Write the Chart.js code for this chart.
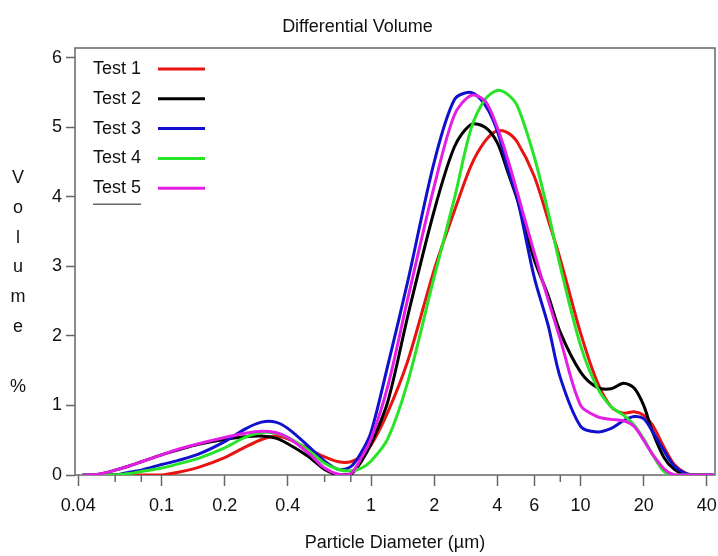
<!DOCTYPE html>
<html>
<head>
<meta charset="utf-8">
<title>Differential Volume</title>
<script src="https://cdn.jsdelivr.net/npm/chart.js@4.4.1/dist/chart.umd.min.js"></script>
<style>
  html, body { margin: 0; padding: 0; background: #fff; }
  #chartContainer { width: 718px; height: 556px; }
</style>
</head>
<body>
<div id="chartContainer"><canvas id="myChart" width="718" height="556"></canvas></div>
<script>
const FONT = "'Liberation Sans', Arial, sans-serif";
const INK = "#111";
const AXIS = "#666";

// particle diameter (µm) shared by all runs
const diameters = [0.042, 0.05, 0.06, 0.07, 0.08, 0.1, 0.12, 0.15, 0.2, 0.25, 0.3, 0.35, 0.4, 0.5, 0.6, 0.7, 0.8, 0.9,
  1, 1.2, 1.5, 2, 2.5, 3, 3.5, 4, 4.5, 5, 6, 7, 8, 10, 12, 14, 16, 18, 20, 22, 25, 28, 32, 36, 43];

// volume % per run
const test1 = [0, 0, 0, 0, 0, 0, 0.04, 0.11, 0.25, 0.4, 0.51, 0.56, 0.52, 0.38, 0.26, 0.19, 0.19, 0.27,
  0.43, 0.9, 1.65, 2.95, 3.8, 4.45, 4.8, 4.95, 4.92, 4.78, 4.3, 3.67, 3.1, 2.04, 1.34, 0.98, 0.89, 0.91, 0.86, 0.72, 0.4, 0.15, 0.02, 0, 0];
const test2 = [0, 0.01, 0.07, 0.13, 0.19, 0.29, 0.36, 0.44, 0.51, 0.55, 0.56, 0.53, 0.45, 0.27, 0.08, 0, 0.01, 0.2,
  0.45, 1.05, 2.3, 3.8, 4.72, 5.04, 5.0, 4.78, 4.35, 3.95, 3.1, 2.58, 2.05, 1.48, 1.26, 1.24, 1.32, 1.25, 1.0, 0.63, 0.25, 0.08, 0, 0, 0];
const test3 = [0, 0, 0, 0.04, 0.07, 0.15, 0.21, 0.3, 0.48, 0.66, 0.76, 0.76, 0.67, 0.42, 0.2, 0.08, 0.12, 0.33,
  0.62, 1.57, 2.8, 4.5, 5.4, 5.5, 5.32, 4.95, 4.4, 3.96, 2.85, 2.15, 1.4, 0.7, 0.62, 0.67, 0.78, 0.84, 0.81, 0.63, 0.35, 0.13, 0.02, 0, 0];
const test4 = [0, 0, 0, 0.02, 0.05, 0.1, 0.16, 0.24, 0.39, 0.54, 0.61, 0.6, 0.54, 0.36, 0.17, 0.08, 0.06, 0.1,
  0.2, 0.52, 1.35, 2.85, 3.98, 4.98, 5.4, 5.53, 5.47, 5.3, 4.58, 3.78, 3.0, 1.86, 1.26, 0.98, 0.86, 0.72, 0.52, 0.3, 0.05, 0, 0, 0, 0];
const test5 = [0, 0.01, 0.07, 0.13, 0.19, 0.29, 0.37, 0.45, 0.54, 0.6, 0.63, 0.61, 0.54, 0.32, 0.1, 0.01, 0.02, 0.25,
  0.52, 1.27, 2.55, 4.15, 5.18, 5.46, 5.38, 5.0, 4.53, 4.05, 3.2, 2.52, 1.95, 1.0, 0.84, 0.8, 0.78, 0.7, 0.5, 0.3, 0.09, 0, 0, 0, 0];

const seriesNames = ["Test 1", "Test 2", "Test 3", "Test 4", "Test 5"];
const seriesValues = [test1, test2, test3, test4, test5];
const seriesColors = ["rgb(232,20,20)", "rgb(0,0,0)", "rgb(16,16,205)", "rgb(40,228,40)", "rgb(228,30,228)"];

const diameterTicks = [0.04, 0.1, 0.2, 0.4, 1, 2, 4, 6, 10, 20, 40];
const diameterMinorTicks = [0.06, 0.08, 0.6, 0.8, 8];
const volumeTicks = [0, 1, 2, 3, 4, 5, 6];
const volumeTitle = ["V", "o", "l", "u", "m", "e", "", "%"];

// box around the plot
const framePlugin = {
  id: "frame",
  beforeDatasetsDraw(chart) {
    const { ctx, chartArea: a } = chart;
    ctx.save();
    ctx.strokeStyle = AXIS;
    ctx.lineWidth = 1.5;
    ctx.strokeRect(a.left, a.top, a.right - a.left, a.bottom - a.top);
    ctx.restore();
  }
};

// short unlabelled ticks on the diameter axis
const minorTickPlugin = {
  id: "minorTicks",
  afterDraw(chart) {
    const x = chart.scales.x;
    const ctx = chart.ctx;
    ctx.save();
    ctx.strokeStyle = AXIS;
    ctx.lineWidth = 1.5;
    diameterMinorTicks.forEach(v => {
      const px = x.getPixelForValue(v);
      ctx.beginPath();
      ctx.moveTo(px, x.top);
      ctx.lineTo(px, x.top + 7);
      ctx.stroke();
    });
    ctx.restore();
  }
};

// legend inside the plot: label first, then the line sample
const insideLegend = {
  id: "insideLegend",
  afterDatasetsDraw(chart) {
    const { ctx, chartArea: a } = chart;
    ctx.save();
    ctx.font = "18px " + FONT;
    ctx.textBaseline = "middle";
    let lastY = 0, lastW = 0;
    chart.data.datasets.forEach((ds, i) => {
      const y = a.top + 21 + i * 29.8;
      ctx.fillStyle = INK;
      ctx.fillText(ds.label, a.left + 18, y);
      ctx.strokeStyle = ds.borderColor;
      ctx.lineWidth = 3;
      ctx.beginPath();
      ctx.moveTo(a.left + 83, y);
      ctx.lineTo(a.left + 130, y);
      ctx.stroke();
      lastY = y;
      lastW = ctx.measureText(ds.label).width;
    });
    ctx.strokeStyle = AXIS;
    ctx.lineWidth = 1.5;
    ctx.beginPath();
    ctx.moveTo(a.left + 18, lastY + 16);
    ctx.lineTo(a.left + 18 + lastW, lastY + 16);
    ctx.stroke();
    ctx.restore();
  }
};

// y title written as a column of letters
const volumeTitlePlugin = {
  id: "volumeTitle",
  afterDraw(chart) {
    const { ctx, chartArea: a } = chart;
    ctx.save();
    ctx.font = "18px " + FONT;
    ctx.fillStyle = INK;
    ctx.textAlign = "center";
    ctx.textBaseline = "middle";
    volumeTitle.forEach((ch, i) => {
      ctx.fillText(ch, 18, a.top + 130 + i * 29.8);
    });
    ctx.restore();
  }
};

const tickFont = { family: FONT, size: 18 };

const ctx = document.getElementById("myChart").getContext("2d");
const chart = new Chart(ctx, {
  type: "line",
  data: {
    datasets: seriesNames.map((name, i) => ({
      label: name,
      data: diameters.map((d, k) => ({ x: d, y: seriesValues[i][k] })),
      borderColor: seriesColors[i],
      borderWidth: 3,
      pointRadius: 0,
      fill: false,
      tension: 0.3,
      order: seriesNames.length - i
    }))
  },
  options: {
    responsive: false,
    animation: false,
    layout: { padding: { left: 0, right: 3, top: 0, bottom: 0 } },
    plugins: {
      legend: { display: false },
      tooltip: { enabled: false },
      title: {
        display: true,
        text: "Differential Volume",
        color: INK,
        font: { family: FONT, size: 18, weight: "normal" },
        padding: { top: 16, bottom: 10.4 }
      }
    },
    scales: {
      x: {
        type: "logarithmic",
        min: 0.0386,
        max: 43.8,
        afterBuildTicks: s => { s.ticks = diameterTicks.map(v => ({ value: v })); },
        afterFit: s => { s.height = 81; s.paddingLeft = 0; s.paddingRight = 0; },
        border: { display: false },
        grid: { drawOnChartArea: false, tickLength: 11, tickColor: AXIS, tickWidth: 1.5 },
        ticks: {
          autoSkip: false,
          maxRotation: 0,
          padding: 9,
          color: INK,
          font: tickFont,
          callback: v => String(v)
        },
        title: {
          display: true,
          text: "Particle Diameter (µm)",
          color: INK,
          font: { family: FONT, size: 18 },
          padding: { top: 0, bottom: 2 }
        }
      },
      y: {
        min: 0,
        max: 6.14,
        afterBuildTicks: s => { s.ticks = volumeTicks.map(v => ({ value: v })); },
        afterFit: s => { s.width = 75; },
        border: { display: false },
        grid: { drawOnChartArea: false, tickLength: 9, tickColor: AXIS, tickWidth: 1.5 },
        ticks: { padding: 4, color: INK, font: tickFont }
      }
    }
  },
  plugins: [framePlugin, minorTickPlugin, insideLegend, volumeTitlePlugin]
});
</script>
</body>
</html>
